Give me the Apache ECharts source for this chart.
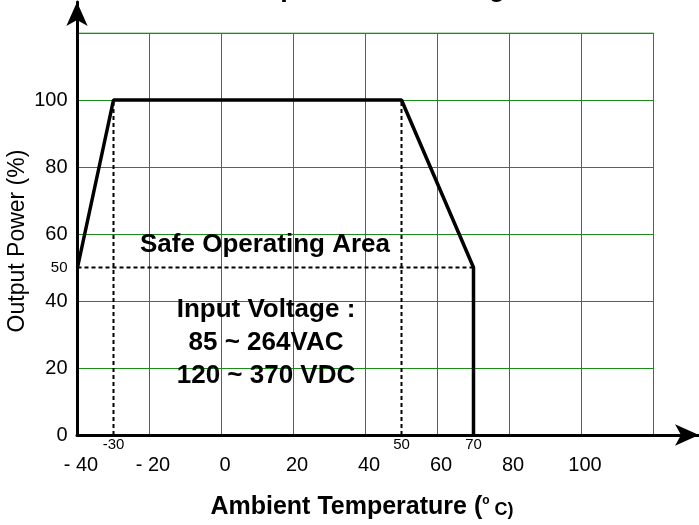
<!DOCTYPE html>
<html>
<head>
<meta charset="utf-8">
<script src="https://cdn.jsdelivr.net/npm/echarts@6/dist/echarts.min.js"></script>
<style>
html,body{margin:0;padding:0;background:#fff;}
#chart{width:699px;height:525px;}
</style>
</head>
<body>
<div id="chart"></div>
<script>
// ---- data ----
var curveTemps = [-40, -30, 50, 70, 70];
var curvePower = [50, 100, 100, 50, 0];
var guideA = [[-30, 0], [-30, 100]];
var guideB = [[50, 0], [50, 100]];
var guideC = [[-40, 50], [70, 50]];
var xTickLabels = [-40, -20, 0, 20, 40, 60, 80, 100];
var xMarkerLabels = [-30, 50, 70];
var yTickLabels = [0, 20, 40, 50, 60, 80, 100];
var titleText = 'Temperature Derating';
var yTitle = 'Output Power (%)';
var noteLines = ['Safe Operating Area', 'Input Voltage :', '85 ~ 264VAC', '120 ~ 370 VDC'];

var FONT = '"Liberation Sans", Arial, sans-serif';
var GREEN = '#1a8c1a';

var chart = echarts.init(document.getElementById('chart'), null, {renderer: 'canvas'});

var curveData = curveTemps.map(function (t, i) { return [t, curvePower[i]]; });

function dashed(data) {
  return {
    type: 'line', xAxisIndex: 0, yAxisIndex: 0, data: data, symbol: 'none',
    lineStyle: {color: '#000', width: 2, type: [4, 3]}, z: 3, silent: true, animation: false
  };
}

var option = {
  animation: false,
  backgroundColor: '#fff',
  grid: [
    {left: 77.5, right: 45.5, top: 33, bottom: 90, containLabel: false, show: true, borderColor: '#6fb86f', borderWidth: 1},
    {left: 77, right: 0, top: 2, bottom: 90, containLabel: false}
  ],
  xAxis: [
    {
      gridIndex: 0, type: 'value', min: -40, max: 120, interval: 20,
      axisLine: {show: false}, axisTick: {show: false},
      splitLine: {show: true, lineStyle: {color: GREEN, width: 1}},
      axisLabel: {
        customValues: xTickLabels, margin: 20, color: '#000', fontSize: 20, fontFamily: FONT,
        padding: [0, 0, 0, 7],
        formatter: function (v) { return v < 0 ? '- ' + Math.abs(v) : String(v); }
      }
    },
    {
      gridIndex: 0, type: 'value', min: -40, max: 120, interval: 20, position: 'bottom',
      axisLine: {show: false}, axisTick: {show: false}, splitLine: {show: false},
      axisLabel: {customValues: xMarkerLabels, margin: 2, color: '#000', fontSize: 15, fontFamily: FONT}
    },
    {
      gridIndex: 1, type: 'value', min: 0, max: 1,
      axisLine: {show: true, lineStyle: {color: '#000', width: 3}, symbol: ['none', 'arrow'], symbolSize: [16, 24]},
      axisTick: {show: false}, axisLabel: {show: false}, splitLine: {show: false}
    }
  ],
  yAxis: [
    {
      gridIndex: 0, type: 'value', min: 0, max: 120, interval: 20,
      axisLine: {show: false}, axisTick: {show: false},
      splitLine: {show: true, lineStyle: {color: GREEN, width: 1}},
      axisLabel: {
        customValues: yTickLabels, margin: 10, color: '#000', fontSize: 20, fontFamily: FONT,
        formatter: function (v) { return v === 50 ? '{s|50}' : String(v); },
        rich: {s: {fontSize: 15, fontFamily: FONT, color: '#000'}}
      }
    },
    {
      gridIndex: 1, type: 'value', min: 0, max: 1,
      axisLine: {show: true, lineStyle: {color: '#000', width: 3}, symbol: ['none', 'arrow'], symbolSize: [16, 24]},
      axisTick: {show: false}, axisLabel: {show: false}, splitLine: {show: false}
    }
  ],
  series: [
    dashed(guideA), dashed(guideB), dashed(guideC),
    {
      type: 'line', xAxisIndex: 0, yAxisIndex: 0, data: curveData, symbol: 'none',
      lineStyle: {color: '#000', width: 3.5}, z: 4, silent: true, clip: false
    }
  ],
  graphic: [
    {type: 'text', x: 366, y: -11, silent: true, style: {text: titleText, font: 'bold 27px ' + FONT, fill: '#000', align: 'center', verticalAlign: 'middle'}},
    {type: 'text', x: 18, y: 241, rotation: Math.PI / 2, silent: true, style: {text: yTitle, font: '23px ' + FONT, fill: '#000', align: 'center', verticalAlign: 'middle'}},
    {type: 'text', x: 265, y: 245, silent: true, z: 10, style: {text: noteLines[0], font: 'bold 26px ' + FONT, fill: '#000', align: 'center', verticalAlign: 'middle'}},
    {type: 'text', x: 266, y: 310, silent: true, z: 10, style: {text: noteLines[1], font: 'bold 26px ' + FONT, fill: '#000', align: 'center', verticalAlign: 'middle'}},
    {type: 'text', x: 266, y: 343, silent: true, z: 10, style: {text: noteLines[2], font: 'bold 26px ' + FONT, fill: '#000', align: 'center', verticalAlign: 'middle'}},
    {type: 'text', x: 266, y: 376, silent: true, z: 10, style: {text: noteLines[3], font: 'bold 26px ' + FONT, fill: '#000', align: 'center', verticalAlign: 'middle'}},
    {type: 'text', x: 362, y: 507, silent: true, style: {
      text: '{a|Ambient Temperature (}{b|o}{c| C)}',
      align: 'center', verticalAlign: 'middle',
      rich: {
        a: {font: 'bold 25px ' + FONT, fill: '#000', verticalAlign: 'bottom'},
        b: {font: 'bold 12px ' + FONT, fill: '#000', verticalAlign: 'top'},
        c: {font: 'bold 18px ' + FONT, fill: '#000', verticalAlign: 'bottom'}
      }
    }}
  ]
};
chart.setOption(option);
</script>
</body>
</html>
